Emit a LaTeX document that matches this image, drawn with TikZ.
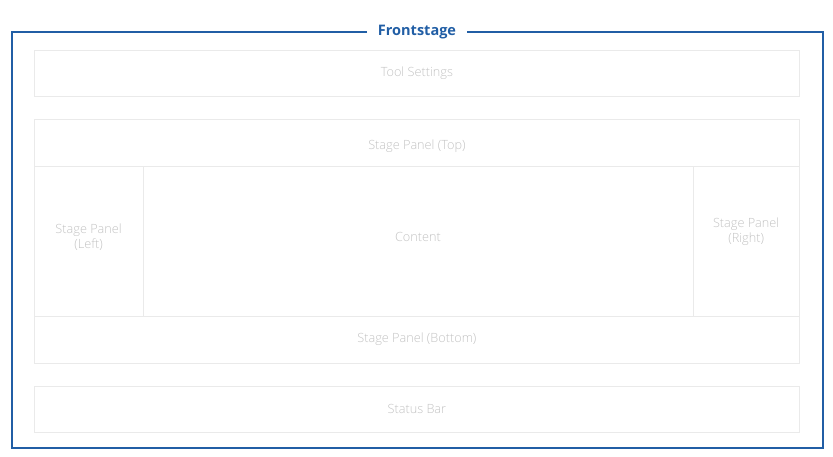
\documentclass[tikz,border=0pt]{standalone}
\usepackage{fontspec}
\setmainfont{Open Sans}
\newfontfamily\lightfont{Open Sans Light}
\definecolor{frameblue}{RGB}{33,94,165}
\definecolor{boxline}{RGB}{234,234,234}
\definecolor{boxtext}{RGB}{195,195,195}
\tikzset{
  panel/.style={draw=boxline, line width=0.8pt, inner sep=0pt, anchor=north west},
  lbl/.style={inner sep=0pt, text=boxtext, font=\lightfont\fontsize{12.7}{15}\selectfont, align=center},
  frame/.style={draw=frameblue, line width=2.6pt},
  title/.style={text=frameblue, font=\bfseries\fontsize{14.5}{16}\selectfont}
}
\begin{document}
\begin{tikzpicture}[x=1pt,y=-1pt]
\useasboundingbox (0,0) rectangle (833,456);
\node[title] (title) at (417,32) {Frontstage};
\coordinate (gl) at (367,32);
\coordinate (gr) at (467,32);
\draw[frame] (gl) -- (12,32) -- (12,448) -- (823,448) -- (823,32) -- (gr);
\node[panel, minimum width=765pt, minimum height=46pt] (tool) at (34,50) {};
\node[panel, minimum width=765pt, minimum height=47pt] (top) at (34,119) {};
\node[panel, minimum width=108.5pt, minimum height=149.5pt] (left) at (34,166) {};
\node[panel, minimum width=550pt, minimum height=149.5pt] (content) at (142.5,166) {};
\node[panel, minimum width=106.5pt, minimum height=149.5pt] (right) at (692.5,166) {};
\node[panel, minimum width=765pt, minimum height=47.5pt] (bottom) at (34,315.5) {};
\node[panel, minimum width=765pt, minimum height=46pt] (status) at (34,386) {};
\node[lbl] (toolL) at (tool.center) {Tool Settings};
\node[lbl] (topL) at ([yshift=-3.5pt]top.center) {Stage Panel (Top)};
\node[lbl] (leftL) at ([yshift=3.5pt]left.center) {Stage Panel\\(Left)};
\node[lbl] (contentL) at ([yshift=4pt]content.center) {Content};
\node[lbl] (rightL) at ([yshift=9.5pt]right.center) {Stage Panel\\(Right)};
\node[lbl] (bottomL) at (bottom.center) {Stage Panel (Bottom)};
\node[lbl] (statusL) at (status.center) {Status Bar};
\end{tikzpicture}
\end{document}
